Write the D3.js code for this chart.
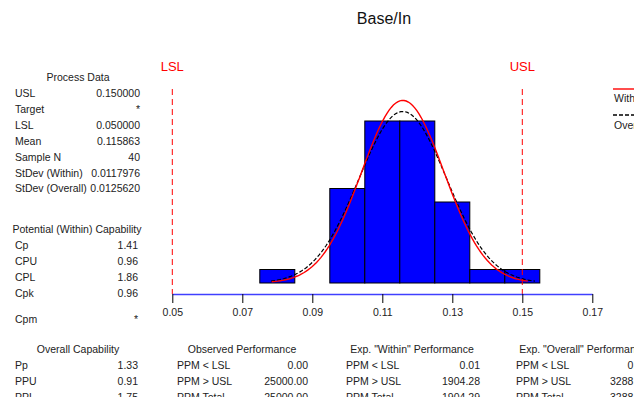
<!DOCTYPE html>
<html>
<head>
<meta charset="utf-8">
<script src="https://cdn.jsdelivr.net/npm/d3@7"></script>
<style>
  body { margin: 0; background: #fff; }
  svg { font-family: "Liberation Sans", Arial, sans-serif; }
  .tbl text { font-size: 10.5px; fill: #222; }
</style>
</head>
<body>
<svg id="chart" width="634" height="397"></svg>
<script>
// histogram bins (centre of each bin) and counts
var binCenters = [0.08, 0.09, 0.10, 0.11, 0.12, 0.13, 0.14, 0.15];
var binCounts = [1, 0, 7, 12, 12, 6, 1, 1];
var binWidth = 0.01;
var xTicks = [0.05, 0.07, 0.09, 0.11, 0.13, 0.15, 0.17];

// spec limits and stats
var LSL = 0.05, USL = 0.15;
var mean = 0.115863, sdWithin = 0.0117976, sdOverall = 0.0125620, sampleN = 40;

// text tables
var processData = [["USL", "0.150000"], ["Target", "*"], ["LSL", "0.050000"], ["Mean", "0.115863"],
    ["Sample N", "40"], ["StDev (Within)", "0.0117976"], ["StDev (Overall)", "0.0125620"]];
var potentialCap = [["Cp", "1.41"], ["CPU", "0.96"], ["CPL", "1.86"], ["Cpk", "0.96"]];
var overallCap = [["Pp", "1.33"], ["PPU", "0.91"], ["PPL", "1.75"]];
var observedPerf = [["PPM < LSL", "0.00"], ["PPM > USL", "25000.00"], ["PPM Total", "25000.00"]];
var withinPerf = [["PPM < LSL", "0.01"], ["PPM > USL", "1904.28"], ["PPM Total", "1904.29"]];
var overallPerf = [["PPM < LSL", "0.08"], ["PPM > USL", "3288.46"], ["PPM Total", "3288.54"]];

var svg = d3.select("#chart");

var x = d3.scaleLinear().domain([0.05, 0.17]).range([172.3, 592.3]);
var y = d3.scaleLinear().domain([0, 14]).range([283, 94]);

// title
svg.append("text").attr("x", 384).attr("y", 24).attr("text-anchor", "middle")
    .style("font-size", "16px").attr("fill", "#111").text("Base/In");

// bars
svg.append("g").selectAll("rect")
    .data(binCenters)
    .enter().append("rect")
    .attr("x", function (d) { return x(d - binWidth / 2); })
    .attr("width", function (d) { return x(d + binWidth / 2) - x(d - binWidth / 2); })
    .attr("y", function (d, i) { return y(binCounts[i]); })
    .attr("height", function (d, i) { return y(0) - y(binCounts[i]); })
    .attr("fill", "#0000ff")
    .attr("stroke", "#000")
    .attr("stroke-width", 1);

// normal curves scaled to the histogram
function normalCurve(sd, lo, hi) {
    var k = sampleN * binWidth / (sd * Math.sqrt(2 * Math.PI));
    return d3.range(lo, hi + 1e-9, (hi - lo) / 120).map(function (v) {
        return [v, k * Math.exp(-0.5 * Math.pow((v - mean) / sd, 2))];
    });
}
var line = d3.line().x(function (d) { return x(d[0]); }).y(function (d) { return y(d[1]); });

svg.append("path").datum(normalCurve(sdOverall, 0.0782, 0.1536))
    .attr("d", line).attr("fill", "none").attr("stroke", "#000")
    .attr("stroke-width", 1.2).attr("stroke-dasharray", "4,2");
svg.append("path").datum(normalCurve(sdWithin, 0.0784, 0.1516))
    .attr("d", line).attr("fill", "none").attr("stroke", "#ff0000").attr("stroke-width", 1.4);

// spec limit lines
[["LSL", LSL], ["USL", USL]].forEach(function (s) {
    svg.append("line").attr("x1", x(s[1])).attr("x2", x(s[1]))
        .attr("y1", 89).attr("y2", 294)
        .attr("stroke", "#ff0000").attr("stroke-dasharray", "6,4");
    svg.append("text").attr("x", x(s[1])).attr("y", 71).attr("text-anchor", "middle")
        .style("font-size", "13px").attr("fill", "#ff0000").text(s[0]);
});

// x axis
var axisG = svg.append("g").attr("transform", "translate(0,294)")
    .call(d3.axisBottom(x).tickValues(xTicks).tickSize(9).tickSizeOuter(0).tickPadding(6)
        .tickFormat(d3.format(".2f")));
axisG.select(".domain").attr("stroke", "#4040ff").attr("stroke-width", 1.3);
axisG.selectAll(".tick line").attr("stroke", "#000");
axisG.selectAll(".tick text").style("font-size", "10.5px").attr("fill", "#222")
    .attr("font-family", "Liberation Sans, Arial, sans-serif");

// legend (partly cut off at the right)
svg.append("line").attr("x1", 613).attr("x2", 640).attr("y1", 89).attr("y2", 89)
    .attr("stroke", "#ff0000").attr("stroke-width", 1.4);
svg.append("text").attr("x", 614).attr("y", 102).style("font-size", "10.5px").attr("fill", "#222").text("Within");
svg.append("line").attr("x1", 613).attr("x2", 640).attr("y1", 115).attr("y2", 115)
    .attr("stroke", "#000").attr("stroke-width", 1.4).attr("stroke-dasharray", "4,2");
svg.append("text").attr("x", 614).attr("y", 129).style("font-size", "10.5px").attr("fill", "#222").text("Overall");

// draw a titled table of label / value rows
function drawTable(title, titleX, titleY, rows, labelX, valueX, y0, step) {
    var g = svg.append("g").attr("class", "tbl");
    g.append("text").attr("x", titleX).attr("y", titleY).attr("text-anchor", "middle").text(title);
    rows.forEach(function (r, i) {
        g.append("text").attr("x", labelX).attr("y", y0 + i * step).text(r[0]);
        g.append("text").attr("x", valueX).attr("y", y0 + i * step).attr("text-anchor", "end").text(r[1]);
    });
    return g;
}

drawTable("Process Data", 78, 80.5, processData, 15, 140, 97, 15.9);
var pot = drawTable("Potential (Within) Capability", 77, 233, potentialCap, 15, 138, 249, 16);
pot.append("text").attr("x", 15).attr("y", 323).text("Cpm");
pot.append("text").attr("x", 138).attr("y", 323).attr("text-anchor", "end").text("*");

drawTable("Overall Capability", 78, 353, overallCap, 15, 138, 368.5, 16);
drawTable("Observed Performance", 242, 353, observedPerf, 177, 308, 368.5, 16);
drawTable("Exp. \"Within\" Performance", 412, 353, withinPerf, 346, 480, 368.5, 16);
drawTable("Exp. \"Overall\" Performance", 583, 353, overallPerf, 516, 648, 368.5, 16);
</script>
</body>
</html>
